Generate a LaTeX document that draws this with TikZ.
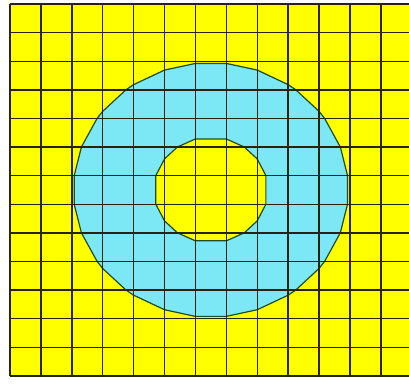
\documentclass[tikz,border=0pt]{standalone}
\definecolor{gridyellow}{RGB}{255,255,0}
\definecolor{ringcyan}{RGB}{125,232,245}
\definecolor{gridline}{RGB}{40,35,10}
\definecolor{ringline}{RGB}{30,75,40}
\tikzset{
  gridstroke/.style={draw=gridline, line width=1.4pt},
  ringstroke/.style={draw=ringline, line width=1.2pt, line join=round},
}
\begin{document}
\begin{tikzpicture}[x=1pt,y=-1pt]
\fill[white] (0,0) rectangle (409,383);
\useasboundingbox (0,0) rectangle (409,383);
\clip (0,0) rectangle (409,383);
\begin{scope}[shift={(10,4)}, x=30.9pt, y=-28.6pt]
  \fill[gridyellow] (0,0) rectangle (13,13);
  \begin{scope}[shift={(6.5,6.5)}]
    \path[fill=ringcyan, ringstroke]
      (4.4218,0.5) -- (4.1896,1.5) -- (3.6814,2.5) -- (3.5,2.7482) -- (2.7482,3.5) -- (2.5,3.6814) -- (1.5,4.1896) -- (0.5,4.4218) --
      (-0.5,4.4218) -- (-1.5,4.1896) -- (-2.5,3.6814) -- (-2.7482,3.5) -- (-3.5,2.7482) -- (-3.6814,2.5) -- (-4.1896,1.5) -- (-4.4218,0.5) --
      (-4.4218,-0.5) -- (-4.1896,-1.5) -- (-3.6814,-2.5) -- (-3.5,-2.7482) -- (-2.7482,-3.5) -- (-2.5,-3.6814) -- (-1.5,-4.1896) -- (-0.5,-4.4218) --
      (0.5,-4.4218) -- (1.5,-4.1896) -- (2.5,-3.6814) -- (2.7482,-3.5) -- (3.5,-2.7482) -- (3.6814,-2.5) -- (4.1896,-1.5) -- (4.4218,-0.5) -- cycle;
    \path[fill=gridyellow, ringstroke]
      (1.781,0.5) -- (1.5,1.083) -- (1.083,1.5) -- (0.5,1.781) --
      (-0.5,1.781) -- (-1.083,1.5) -- (-1.5,1.083) -- (-1.781,0.5) --
      (-1.781,-0.5) -- (-1.5,-1.083) -- (-1.083,-1.5) -- (-0.5,-1.781) --
      (0.5,-1.781) -- (1.083,-1.5) -- (1.5,-1.083) -- (1.781,-0.5) -- cycle;
  \end{scope}
  \foreach \i in {0,...,13} {
    \draw[gridstroke] (\i,0) -- (\i,13);
    \draw[gridstroke] (0,\i) -- (13,\i);
  }
\end{scope}
\end{tikzpicture}
\end{document}
